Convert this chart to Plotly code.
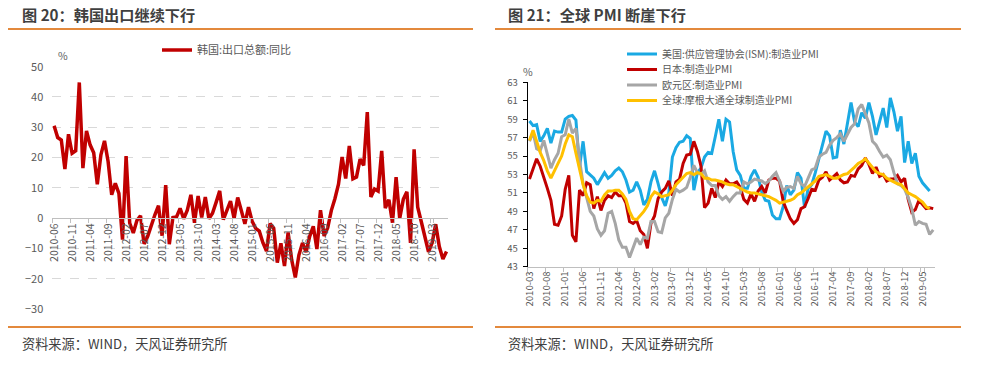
import pandas as pd
import plotly.graph_objects as go

W, H = 988, 370
FONT = "Noto Sans CJK SC, Noto Sans, sans-serif"

# ---------------- Left chart: Korea exports YoY ----------------
korea_months = [p.strftime("%Y-%m") for p in pd.period_range("2010-06", "2019-07", freq="M")]
korea_export_yoy = [
    30.5, 26.6, 25.8, 16.2, 27.7, 21.4, 22.2,                               # 2010-06..12
    44.8, 16.5, 28.8, 24.2, 21.6, 11.2, 20.9, 25.5, 18.7, 7.7, 11.5, 8.2,   # 2011
    -7.1, 20.5, -1.6, -4.9, -0.8, 0.8, -8.5, -6.0, -2.2, 1.1, 4.1, -5.8,   # 2012
    10.9, -8.6, 0.2, 0.4, 3.2, -0.2, 2.6, 7.7, -1.5, 7.3, 0.2, 7.0,        # 2013
    -0.2, 1.6, 5.2, 9.0, -0.5, 2.5, 5.6, -0.1, 6.8, 2.5, -1.9, 3.6,        # 2014
    -1.0, -3.4, -4.3, -8.1, -10.9, -1.8, -3.3, -14.7, -8.3, -15.8, -4.7, -13.8,  # 2015
    -19.6, -12.2, -8.2, -11.2, -6.0, -2.7, -10.2, 2.6, -5.9, -3.2, 2.5, 6.4,    # 2016
    11.2, 20.2, 13.1, 23.8, 13.0, 13.6, 19.5, 17.4, 35.0, 7.0, 9.6, 8.9,   # 2017
    22.2, 3.3, 6.1, -1.5, 13.5, -0.1, 6.2, 8.7, -8.2, 22.7, 3.6, -1.2,     # 2018
    -5.8, -11.1, -8.2, -2.0, -9.4, -13.5, -11.0,                           # 2019
]
korea_ticks = ["2010-06", "2010-11", "2011-04", "2011-09", "2012-02", "2012-07", "2012-12",
               "2013-05", "2013-10", "2014-03", "2014-08", "2015-01", "2015-06", "2015-11",
               "2016-04", "2016-09", "2017-02", "2017-07", "2017-12", "2018-05", "2018-10",
               "2019-03"]
left_y_ticks = [50, 40, 30, 20, 10, 0, -10, -20, -30]

# ---------------- Right chart: PMIs ----------------
pmi_months = [p.strftime("%Y-%m") for p in pd.period_range("2010-03", "2019-08", freq="M")]
us_ism_pmi = [
    58.8, 58.3, 58.4, 56.6, 57.2, 58.0, 56.4, 57.7, 57.6, 57.6,
    59.0, 59.3, 59.4, 58.9, 53.8, 56.6, 53.3, 52.9, 52.6, 51.9, 52.6, 53.2,
    52.6, 52.9, 53.4, 53.7, 53.3, 52.4, 51.1, 51.3, 52.2, 51.3, 49.7, 50.3,
    52.2, 53.4, 52.0, 50.5, 49.6, 51.0, 54.9, 55.9, 56.5, 56.6, 57.2, 56.9,
    51.3, 53.2, 53.7, 54.9, 55.4, 55.3, 57.1, 59.0, 56.6, 59.0, 58.7, 55.5,
    53.5, 52.9, 51.5, 51.5, 52.8, 53.5, 52.7, 51.1, 50.2, 50.1, 48.6, 48.2,
    48.2, 49.5, 51.8, 50.8, 51.3, 53.2, 52.6, 49.4, 51.5, 51.9, 53.2, 54.7,
    56.0, 57.7, 57.2, 54.8, 54.9, 57.8, 56.3, 58.8, 60.8, 58.7, 58.2, 59.7,
    59.1, 60.8, 59.3, 57.3, 58.7, 60.2, 58.1, 61.3, 59.8, 57.7, 59.3, 54.3,
    56.6, 54.2, 55.3, 52.8, 52.1, 51.7, 51.2, None,
]
japan_pmi = [
    52.5, 53.6, 54.7, 53.9, 52.8, 51.5, 50.2, 47.6, 47.5, 48.5,
    51.4, 52.9, 46.4, 45.7, 51.3, 50.7, 52.1, 51.9, 49.3, 50.6, 49.1, 50.2,
    50.7, 50.5, 51.1, 50.7, 50.7, 49.9, 47.9, 47.7, 48.0, 46.9, 46.5, 45.0,
    47.7, 48.5, 50.4, 51.1, 51.5, 52.3, 50.7, 52.2, 52.5, 54.2, 55.1, 55.2,
    56.6, 55.5, 53.9, 49.4, 49.9, 51.5, 50.5, 52.2, 51.7, 52.4, 52.0, 52.0,
    52.2, 51.6, 50.3, 49.9, 50.9, 50.1, 51.2, 51.7, 51.0, 52.4, 52.6, 52.6,
    52.3, 50.1, 49.1, 48.2, 47.7, 48.1, 49.3, 49.5, 50.4, 51.4, 51.3, 52.4,
    52.7, 53.3, 52.4, 52.7, 53.1, 52.4, 52.1, 52.2, 52.9, 52.8, 53.6, 54.0,
    54.8, 54.1, 53.1, 53.8, 52.8, 53.0, 52.3, 52.5, 52.5, 52.9, 52.2, 52.6,
    50.3, 48.9, 49.2, 50.2, 49.8, 49.3, 49.4, 49.3,
]
euro_pmi = [
    56.6, 57.6, 55.8, 55.6, 56.7, 55.1, 53.7, 54.6, 55.3, 57.1,
    57.3, 59.0, 57.5, 58.0, 54.6, 52.0, 50.4, 49.0, 48.5, 47.1, 46.4, 46.9,
    48.8, 49.0, 47.7, 45.9, 45.1, 45.1, 44.0, 45.1, 46.1, 45.4, 46.2, 46.1,
    47.9, 47.9, 46.8, 46.7, 48.3, 48.8, 50.3, 51.4, 51.1, 51.3, 51.6, 52.7,
    54.0, 53.2, 53.0, 53.4, 52.2, 51.8, 51.8, 50.7, 50.3, 50.6, 50.1, 50.6,
    51.0, 51.0, 52.2, 52.0, 52.2, 52.5, 52.4, 52.3, 52.0, 52.3, 52.8, 53.2,
    52.3, 51.2, 51.6, 51.7, 51.5, 52.8, 52.0, 51.7, 52.6, 53.5, 53.7, 54.9,
    55.2, 55.4, 56.2, 56.7, 57.0, 57.4, 56.6, 57.4, 58.1, 58.5, 60.1, 60.6,
    59.6, 58.6, 56.6, 56.2, 55.5, 54.9, 55.1, 54.6, 53.2, 52.0, 51.8, 51.4,
    50.5, 49.3, 47.5, 47.9, 47.7, 47.6, 46.5, 47.0,
]
global_pmi = [
    56.7, 57.8, 56.6, 55.4, 54.5, 53.4, 52.6, 53.5, 54.2, 55.0,
    56.3, 57.3, 57.1, 55.3, 53.6, 51.9, 50.7, 50.0, 49.9, 50.2, 50.1, 50.8,
    51.2, 51.2, 51.3, 51.3, 50.9, 50.3, 49.0, 48.2, 48.1, 48.5, 49.0, 49.6,
    50.6, 51.1, 50.9, 50.6, 50.7, 50.8, 51.3, 51.9, 52.3, 52.7, 53.1, 53.2,
    53.0, 53.2, 53.1, 52.6, 52.6, 52.4, 52.4, 52.3, 52.2, 52.0, 51.9, 51.9,
    51.7, 51.5, 51.3, 51.1, 51.0, 51.0, 50.9, 50.8, 50.7, 50.6, 50.4, 50.2,
    49.9, 50.0, 50.1, 50.2, 50.4, 50.8, 51.0, 51.3, 51.6, 51.9, 52.3, 52.8,
    52.9, 53.0, 52.8, 52.6, 52.6, 52.8, 53.0, 53.1, 53.4, 53.8, 54.2, 54.4,
    54.7, 54.2, 53.8, 53.3, 53.1, 53.0, 52.6, 52.4, 52.2, 52.0, 51.9, 51.4,
    51.0, 50.8, 50.6, 50.3, 50.0, 49.5, 49.3, None,
]
pmi_ticks = ["2010-03", "2010-08", "2011-01", "2011-06", "2011-11", "2012-04", "2012-09",
             "2013-02", "2013-07", "2013-12", "2014-05", "2014-10", "2015-03", "2015-08",
             "2016-01", "2016-06", "2016-11", "2017-04", "2017-09", "2018-02", "2018-07",
             "2018-12", "2019-05"]
right_y_ticks = [63, 61, 59, 57, 55, 53, 51, 49, 47, 45, 43]

pmi_names = ["美国:供应管理协会(ISM):制造业PMI", "日本:制造业PMI", "欧元区:制造业PMI",
             "全球:摩根大通全球制造业PMI"]
pmi_values = [us_ism_pmi, japan_pmi, euro_pmi, global_pmi]
pmi_colors = ["#1AA9E3", "#C00000", "#A6A6A6", "#FFC000"]
legend_rows_y = [54, 69.5, 85, 100.5]   # pixel centres of the four legend rows

ORANGE = "#E3893C"
TXT = "#595959"


def px(x):
    return x / W


def py(y):
    return 1 - y / H


fig = go.Figure()

fig.add_trace(go.Scatter(
    x=korea_months, y=korea_export_yoy, mode="lines", name="韩国:出口总额:同比",
    line=dict(color="#C00000", width=3.5), xaxis="x", yaxis="y", legend="legend",
))
for i, (name, vals, color) in enumerate(zip(pmi_names, pmi_values, pmi_colors)):
    fig.add_trace(go.Scatter(
        x=pmi_months, y=vals, mode="lines", name=name,
        line=dict(color=color, width=3), xaxis="x2", yaxis="y2",
        legend=f"legend{i + 2}",
    ))

# left plot geometry
ly_dom = [py(309.0), py(66.7)]
ly_rng = [min(left_y_ticks), max(left_y_ticks)]
zero_pos = ly_dom[0] + (0 - ly_rng[0]) / (ly_rng[1] - ly_rng[0]) * (ly_dom[1] - ly_dom[0])

layout = dict(
    width=W, height=H, template="none",
    margin=dict(l=0, r=0, t=0, b=0, pad=0),
    paper_bgcolor="white", plot_bgcolor="white",
    font=dict(family=FONT, color=TXT, size=11),
    xaxis=dict(
        domain=[px(52.3), px(448.3)], type="category", categoryorder="array",
        categoryarray=korea_months, range=[-0.5, len(korea_months) - 0.5],
        tickmode="array", tickvals=korea_ticks, ticktext=korea_ticks, tickangle=-90,
        ticks="outside", ticklen=4, tickcolor="#BFBFBF", tickson="boundaries",
        showline=True, linecolor="#BFBFBF", linewidth=1, showgrid=False, zeroline=False,
        anchor="free", position=zero_pos, automargin=False,
        tickfont=dict(size=10.5, color=TXT),
    ),
    yaxis=dict(
        domain=ly_dom, range=ly_rng, tickmode="array", tickvals=left_y_ticks,
        showgrid=True, gridcolor="#D9D9D9", griddash="dash", gridwidth=1,
        zeroline=False, showline=False, ticks="", ticklabelstandoff=8,
        anchor="x", automargin=False, tickfont=dict(size=11, color=TXT),
    ),
    xaxis2=dict(
        domain=[px(527.7), px(935.0)], type="category", categoryorder="array",
        categoryarray=pmi_months, range=[-0.5, len(pmi_months) - 0.5],
        tickmode="array", tickvals=pmi_ticks, ticktext=pmi_ticks, tickangle=-90,
        ticks="outside", ticklen=4, tickcolor="#BFBFBF", tickson="boundaries",
        showline=True, linecolor="#BFBFBF", linewidth=1, showgrid=False, zeroline=False,
        anchor="y2", automargin=False, tickfont=dict(size=9.5, color=TXT),
    ),
    yaxis2=dict(
        domain=[py(266.7), py(82.3)], range=[min(right_y_ticks), max(right_y_ticks)],
        tickmode="array", tickvals=right_y_ticks,
        showgrid=False, zeroline=False, showline=True, linecolor="#000000", linewidth=1,
        ticks="outside", ticklen=4, tickcolor="#000000", ticklabelstandoff=3,
        anchor="x2", automargin=False, tickfont=dict(size=9.5, color=TXT),
    ),
    legend=dict(
        x=px(157), y=py(50), xanchor="left", yanchor="middle", orientation="h",
        bgcolor="rgba(0,0,0,0)", font=dict(size=11, color=TXT, family=FONT),
        itemwidth=30,
    ),
    showlegend=True,
)
for i, yrow in enumerate(legend_rows_y):
    layout[f"legend{i + 2}"] = dict(
        x=px(622), y=py(yrow), xanchor="left", yanchor="middle", orientation="v",
        bgcolor="rgba(0,0,0,0)", font=dict(size=10, color=TXT, family=FONT),
        itemwidth=30,
    )
fig.update_layout(**layout)

shapes = []
for (x0, x1) in [(8, 473), (495, 961)]:
    for yline in (29, 327):
        shapes.append(dict(type="line", xref="paper", yref="paper",
                           x0=px(x0), x1=px(x1), y0=py(yline), y1=py(yline),
                           line=dict(color=ORANGE, width=2)))
fig.update_layout(shapes=shapes)

ann = [
    dict(text="<b>图 20：韩国出口继续下行</b>", x=px(20), y=py(14), font=dict(size=15.2, color="#3F3F3F")),
    dict(text="<b>图 21：全球 PMI 断崖下行</b>", x=px(506), y=py(14), font=dict(size=15.2, color="#3F3F3F")),
    dict(text="资料来源：WIND，天风证券研究所", x=px(20), y=py(343), font=dict(size=13.2, color="#404040")),
    dict(text="资料来源：WIND，天风证券研究所", x=px(506), y=py(343), font=dict(size=13.2, color="#404040")),
    dict(text="%", x=px(56), y=py(55), font=dict(size=10.5, color=TXT)),
    dict(text="%", x=px(521), y=py(71), font=dict(size=10.5, color=TXT)),
]
for a in ann:
    a.update(xref="paper", yref="paper", xanchor="left", yanchor="middle", showarrow=False)
fig.update_layout(annotations=ann)

fig.write_html(
    "out.html",
    config={"displayModeBar": False},
    post_script="document.body.style.margin='0';document.body.style.overflow='hidden';",
)
